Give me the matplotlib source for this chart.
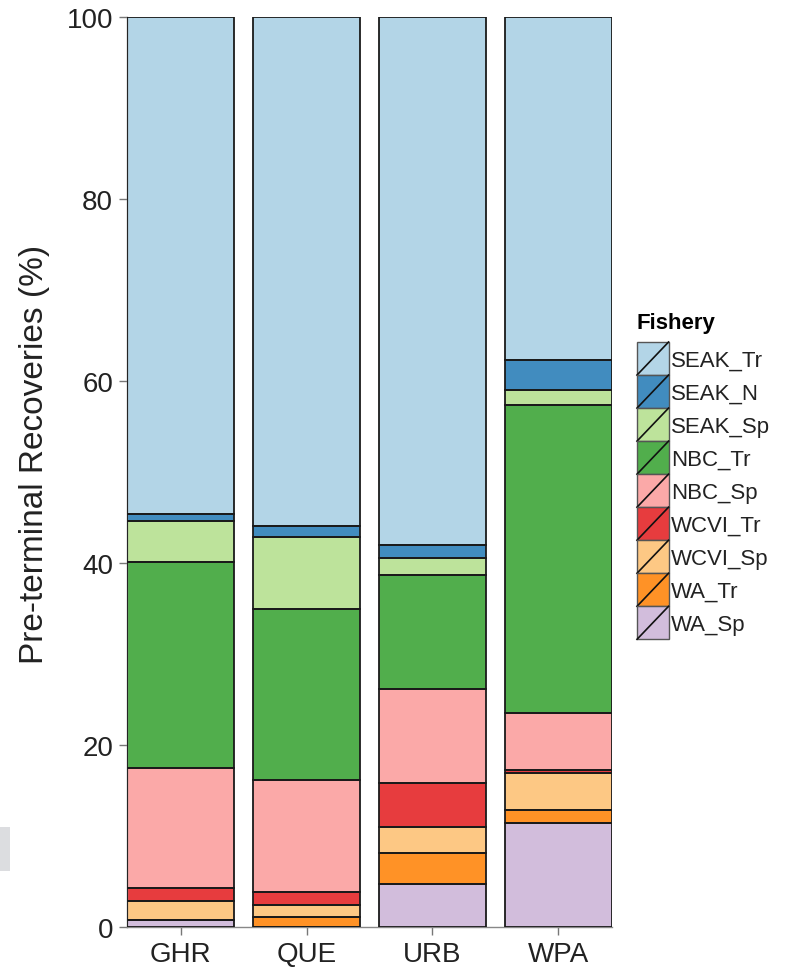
import matplotlib
matplotlib.use("Agg")
import matplotlib.pyplot as plt
from matplotlib import font_manager as fm
from matplotlib.patches import Rectangle, Patch
from matplotlib.lines import Line2D
from matplotlib.legend_handler import HandlerBase
import numpy as np

# ---- data ---------------------------------------------------------------
sites = ["GHR", "QUE", "URB", "WPA"]
fisheries = ["SEAK_Tr", "SEAK_N", "SEAK_Sp", "NBC_Tr", "NBC_Sp",
             "WCVI_Tr", "WCVI_Sp", "WA_Tr", "WA_Sp"]

SEAK_Tr = [54.6, 55.9, 58.0, 37.7]
SEAK_N = [0.8, 1.2, 1.4, 3.3]
SEAK_Sp = [4.5, 7.9, 1.9, 1.6]
NBC_Tr = [22.6, 18.9, 12.5, 33.9]
NBC_Sp = [13.2, 12.2, 10.4, 6.3]
WCVI_Tr = [1.4, 1.45, 4.8, 0.3]
WCVI_Sp = [2.1, 1.4, 2.9, 4.0]
WA_Tr = [0.0, 1.05, 3.4, 1.5]
WA_Sp = [0.8, 0.0, 4.7, 11.4]

series = {"SEAK_Tr": SEAK_Tr, "SEAK_N": SEAK_N, "SEAK_Sp": SEAK_Sp,
          "NBC_Tr": NBC_Tr, "NBC_Sp": NBC_Sp, "WCVI_Tr": WCVI_Tr,
          "WCVI_Sp": WCVI_Sp, "WA_Tr": WA_Tr, "WA_Sp": WA_Sp}

colors = {"SEAK_Tr": "#A6CEE3", "SEAK_N": "#1F78B4", "SEAK_Sp": "#B2DF8A",
          "NBC_Tr": "#33A02C", "NBC_Sp": "#FB9A99", "WCVI_Tr": "#E31A1C",
          "WCVI_Sp": "#FDBF6F", "WA_Tr": "#FF7F00", "WA_Sp": "#CAB2D6"}
ALPHA = 0.85

# ---- fonts --------------------------------------------------------------
available = {f.name for f in fm.fontManager.ttflist}
base_font = "Liberation Sans" if "Liberation Sans" in available else "DejaVu Sans"
plt.rcParams["font.family"] = [base_font, "DejaVu Sans"]

# ---- figure -------------------------------------------------------------
W, H = 802, 970
fig = plt.figure(figsize=(W / 100, H / 100), dpi=100)
ax = fig.add_axes([127 / W, 1 - 928 / H, (612 - 127) / W, (928 - 18) / H])

x = np.arange(len(sites))
bottom = np.zeros(len(sites))
for name in reversed(fisheries):
    vals = np.array(series[name], dtype=float)
    ax.bar(x, vals, bottom=bottom, width=0.85, color=colors[name],
           alpha=ALPHA, edgecolor="none", zorder=2)
    ax.bar(x, vals, bottom=bottom, width=0.85, facecolor="none",
           edgecolor="#1a1a1a", linewidth=1.3, zorder=3)
    bottom += vals

ax.set_xlim(-0.425, 3.425)
ax.set_ylim(0, 100)
ax.set_xticks(x)
ax.set_xticklabels(sites)
ax.set_yticks([0, 20, 40, 60, 80, 100])
ax.tick_params(axis="both", length=6, width=1, color="#777777",
               labelsize=20, labelcolor="#222222", pad=4)
for side in ["top", "right"]:
    ax.spines[side].set_visible(False)
for side in ["left", "bottom"]:
    ax.spines[side].set_color("#888888")
    ax.spines[side].set_linewidth(1)

fig.text(35 / W, 1 - 454 / H, "Pre-terminal Recoveries (%)", rotation=90,
         ha="center", va="center", color="#222222", fontsize=24)


# ---- legend with diagonal keys -----------------------------------------
class DiagonalKey(HandlerBase):
    def create_artists(self, legend, orig_handle, xdescent, ydescent,
                       width, height, fontsize, trans):
        r = Rectangle((-xdescent, -ydescent), width, height,
                      facecolor=orig_handle.get_facecolor(),
                      edgecolor="#555555", linewidth=1, transform=trans)
        ln = Line2D([-xdescent, -xdescent + width],
                    [-ydescent, -ydescent + height],
                    color="#111111", linewidth=1.2, transform=trans)
        return [r, ln]


handles = [Patch(facecolor=colors[n], alpha=ALPHA) for n in fisheries]
leg = fig.legend(handles, fisheries, handler_map={Patch: DiagonalKey()},
                 loc="upper left", bbox_to_anchor=(637 / W, 1 - 313 / H),
                 frameon=False, fontsize=16, title="Fishery",
                 title_fontproperties={"weight": "bold", "size": 16},
                 handlelength=1.42, handleheight=1.91, labelspacing=0,
                 handletextpad=0.12, borderpad=0, borderaxespad=0,
                 alignment="left")
leg._legend_box.sep = 6.5  # gap between the title and the keys
for t in leg.get_texts():
    t.set_color("#222222")

# light grey block at the left margin
fig.patches.append(Rectangle((0, 1 - 872 / H), 10 / W, 44 / H,
                             transform=fig.transFigure, facecolor="#dcdde0",
                             edgecolor="none"))

fig.savefig("out.png", dpi=100)
